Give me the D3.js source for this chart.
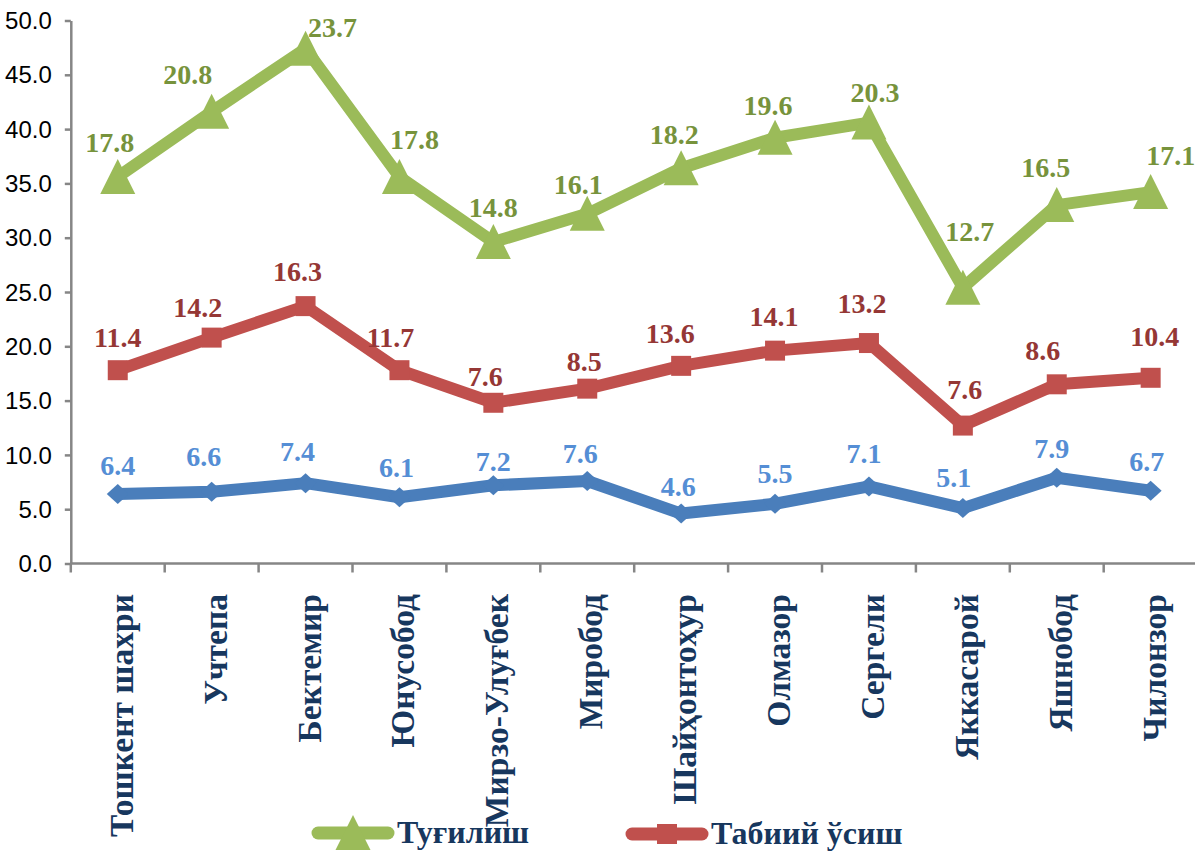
<!DOCTYPE html>
<html>
<head>
<meta charset="utf-8">
<script src="https://cdn.jsdelivr.net/npm/d3@7"></script>
<style>
  body { margin: 0; background: #fff; }
  svg { display: block; font-family: "Liberation Serif", "Times New Roman", serif; }
  .axis path, .axis line { stroke: #868686; stroke-width: 2.5; }
  .axis text { fill: #000; font-size: 24px; }
  .cat { fill: #17375e; font-size: 33.5px; font-weight: bold; }
  .lbl { font-size: 28px; font-weight: bold; text-anchor: middle; }
  .legend text { fill: #17375e; font-size: 32px; font-weight: bold; }
</style>
</head>
<body>
<script>
// Districts of Tashkent
var districts = ["Тошкент шахри", "Учтепа", "Бектемир", "Юнусобод", "Мирзо-Улуғбек", "Миробод",
  "Шайҳонтоҳур", "Олмазор", "Сергели", "Яккасарой", "Яшнобод", "Чилонзор"];

// Values per district (stacked in the chart: death, growth, birth)
var death  = [6.4, 6.6, 7.4, 6.1, 7.2, 7.6, 4.6, 5.5, 7.1, 5.1, 7.9, 6.7];
var growth = [11.4, 14.2, 16.3, 11.7, 7.6, 8.5, 13.6, 14.1, 13.2, 7.6, 8.6, 10.4];
var birth  = [17.8, 20.8, 23.7, 17.8, 14.8, 16.1, 18.2, 19.6, 20.3, 12.7, 16.5, 17.1];

// Y axis ticks
var yTicks = [0, 5, 10, 15, 20, 25, 30, 35, 40, 45, 50];

// Legend names (the third series has no visible legend entry)
var legendNames = ["Туғилиш", "Табиий ўсиш"];

// Small nudges of the value labels, as they were moved by hand in the original
var birthShift  = [[-8,-34],[-24,-37],[27,-21],[15,-37],[0,-35],[-9,-29],[-7,-34],[-7,-32],[6,-30],[7,-56],[-11,-38],[20,-37]];
var growthShift = [[0,-33],[-14,-30],[-8,-35],[-9,-33],[-8,-26],[-3,-27],[-11,-32],[-1,-34],[-7,-40],[2,-36],[-14,-34],[4,-41]];
var deathShift  = [[0,-29],[-8,-35],[-8,-32],[-3,-30],[0,-24],[-7,-27],[-3,-27],[0,-30],[-5,-33],[-9,-31],[-5,-29],[-4,-29]];

var w = 1195;
var h = 851;

var svg = d3.select("body")
    .append("svg")
    .attr("width", w)
    .attr("height", h);

// Rows for the stack layout
var rows = districts.map(function(d, i) {
  return {name: d, death: death[i], growth: growth[i], birth: birth[i]};
});
var stacked = d3.stack().keys(["death", "growth", "birth"])(rows);

var xScale = d3.scaleBand()
    .domain(districts)
    .range([70.8, 1197.6]);
var yScale = d3.scaleLinear()
    .domain([0, 50])
    .range([563.5, 20.5]);

// Y axis
svg.append("g")
    .attr("class", "axis")
    .attr("transform", "translate(70.8,0)")
    .call(d3.axisLeft(yScale).tickValues(yTicks).tickSize(6).tickPadding(13).tickSizeOuter(0).tickFormat(d3.format(".1f")))
    .call(function(g) { g.selectAll("text").attr("dy", "0.34em"); });

// X axis, ticks between categories
var xAxis = svg.append("g")
    .attr("class", "axis")
    .attr("transform", "translate(0,563.5)");
xAxis.append("line")
    .attr("x1", xScale.range()[0])
    .attr("x2", xScale.range()[1]);
xAxis.selectAll(".tk")
    .data(districts.concat([null]))
    .enter().append("line")
    .attr("class", "tk")
    .attr("x1", function(d, i) { return xScale.range()[0] + i * xScale.step(); })
    .attr("x2", function(d, i) { return xScale.range()[0] + i * xScale.step(); })
    .attr("y2", 9);

// Category labels, rotated
svg.selectAll(".cat")
    .data(districts)
    .enter().append("text")
    .attr("class", "cat")
    .attr("text-anchor", "end")
    .attr("transform", function(d) {
      return "translate(" + (xScale(d) + xScale.bandwidth() / 2 + 15) + ",594) rotate(-90)";
    })
    .text(function(d) { return d; });

var cx = function(i) { return xScale(districts[i]) + xScale.bandwidth() / 2; };

var series = [
  {layer: stacked[0], vals: death,  line: "#4a7ebb", text: "#558ed5", shift: deathShift,  marker: "M0,-10L11,0L0,10L-11,0Z"},
  {layer: stacked[1], vals: growth, line: "#c0504d", text: "#953735", shift: growthShift, marker: "M-10,-10L10,-10L10,10L-10,10Z"},
  {layer: stacked[2], vals: birth,  line: "#9bbb59", text: "#77933c", shift: birthShift,  marker: "M0,-18L17.5,17L-17.5,17Z"}
];

var line = d3.line()
    .x(function(d, i) { return cx(i); })
    .y(function(d) { return yScale(d[1]); });

// Lines and markers
series.forEach(function(s) {
  svg.append("path")
      .datum(s.layer)
      .attr("d", line)
      .attr("fill", "none")
      .attr("stroke", s.line)
      .attr("stroke-width", 12)
      .attr("stroke-linejoin", "round");

  svg.selectAll(null)
      .data(s.layer)
      .enter().append("path")
      .attr("d", s.marker)
      .attr("transform", function(d, i) { return "translate(" + cx(i) + "," + yScale(d[1]) + ")"; })
      .attr("fill", s.line);
});

// Value labels
series.forEach(function(s) {
  svg.selectAll(null)
      .data(s.layer)
      .enter().append("text")
      .attr("class", "lbl")
      .attr("x", function(d, i) { return cx(i) + s.shift[i][0]; })
      .attr("y", function(d, i) { return yScale(d[1]) + s.shift[i][1]; })
      .attr("dy", "0.34em")
      .attr("fill", s.text)
      .text(function(d, i) { return d3.format(".1f")(s.vals[i]); });
});

// Legend
var legendItems = [
  {name: legendNames[0], s: series[2], x: 318, y: 833},
  {name: legendNames[1], s: series[1], x: 632, y: 834}
];
var legend = svg.selectAll(".legend")
    .data(legendItems)
    .enter().append("g")
    .attr("class", "legend")
    .attr("transform", function(d) { return "translate(" + d.x + "," + d.y + ")"; });

legend.append("line")
    .attr("x1", 0)
    .attr("x2", 70)
    .attr("stroke", function(d) { return d.s.line; })
    .attr("stroke-width", 13)
    .attr("stroke-linecap", "round");

legend.append("path")
    .attr("d", function(d) { return d.s.marker; })
    .attr("transform", "translate(35,0)")
    .attr("fill", function(d) { return d.s.line; });

legend.append("text")
    .attr("x", 79)
    .attr("y", 10)
    .text(function(d) { return d.name; });
</script>
</body>
</html>
